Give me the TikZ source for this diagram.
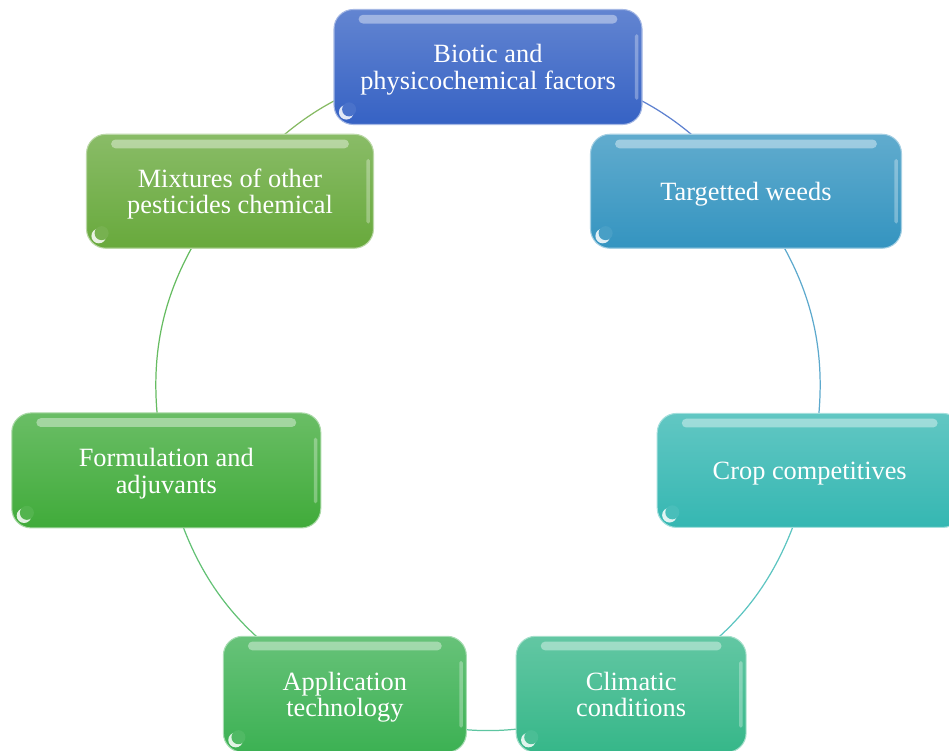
\documentclass[tikz,border=0pt]{standalone}
\usepackage{fontspec}
\setmainfont{Liberation Serif}
\usetikzlibrary{backgrounds,calc}
\definecolor{bioticblue}{HTML}{3662C4}
\definecolor{weedblue}{HTML}{3494C0}
\definecolor{cropteal}{HTML}{35B7B2}
\definecolor{climgreen}{HTML}{36B789}
\definecolor{applgreen}{HTML}{3CB153}
\definecolor{formgreen}{HTML}{40AB3A}
\definecolor{mixgreen}{HTML}{68A93C}
\tikzset{
  factor/.style={rounded corners=11pt, align=center, text=white,
    font=\fontsize{15}{15.3}\selectfont, inner sep=0pt, text depth=0pt,
    top color=#1!78!white, bottom color=#1, draw=#1!45!white, line width=0.6pt,
    path picture={
      \fill[white, opacity=.4, rounded corners=2.5pt]
        ([xshift=14pt,yshift=-3pt]path picture bounding box.north west) rectangle
        ([xshift=-14pt,yshift=-8pt]path picture bounding box.north east);
      \fill[white, opacity=.3, rounded corners=1pt]
        ([xshift=-4pt,yshift=-14pt]path picture bounding box.north east) rectangle
        ([xshift=-2pt,yshift=14pt]path picture bounding box.south east);
      \fill[white, opacity=.85]
        ([xshift=7pt,yshift=7pt]path picture bounding box.south west) circle (4.2pt);
      \fill[#1!90!white]
        ([xshift=8.6pt,yshift=8.6pt]path picture bounding box.south west) circle (4pt);
    }},
  link/.style={line width=0.7pt, #1!80!white}
}
\begin{document}
\begin{tikzpicture}
\useasboundingbox (0,0) rectangle (18.98,15.02);
\coordinate (hub) at (9.76,7.08);

% factors round the circle
\node[factor=bioticblue, minimum width=6.16cm, minimum height=2.3cm] (biotic)
  at ($(hub)+(90:6.6)$) {Biotic and\\physicochemical factors};
\node[factor=weedblue, minimum width=6.22cm, minimum height=2.28cm] (weeds)
  at ($(hub)+(38.57:6.6)$) {Targetted weeds};
\node[factor=cropteal, minimum width=6.1cm, minimum height=2.28cm] (crop)
  at ($(hub)+(-12.86:6.6)$) {Crop competitives};
\node[factor=climgreen, minimum width=4.6cm, minimum height=2.32cm] (climate)
  at ($(hub)+(-64.29:6.6)$) {Climatic\\conditions};
\node[factor=applgreen, minimum width=4.86cm, minimum height=2.32cm] (appl)
  at ($(hub)+(-115.71:6.6)$) {Application\\technology};
\node[factor=formgreen, minimum width=6.18cm, minimum height=2.3cm] (form)
  at ($(hub)+(-167.14:6.6)$) {Formulation and\\adjuvants};
\node[factor=mixgreen, minimum width=5.74cm, minimum height=2.28cm] (mix)
  at ($(hub)+(141.43:6.6)$) {Mixtures of other\\pesticides chemical};

% arcs of the cycle
\begin{scope}[on background layer]
\draw[link=bioticblue] (biotic.center) to[bend left=25.7] (weeds.center);
\draw[link=weedblue] (weeds.center) to[bend left=25.7] (crop.center);
\draw[link=cropteal] (crop.center) to[bend left=25.7] (climate.center);
\draw[link=climgreen] (climate.center) to[bend left=25.7] (appl.center);
\draw[link=applgreen] (appl.center) to[bend left=25.7] (form.center);
\draw[link=formgreen] (form.center) to[bend left=25.7] (mix.center);
\draw[link=mixgreen] (mix.center) to[bend left=25.7] (biotic.center);
\end{scope}
\end{tikzpicture}
\end{document}
